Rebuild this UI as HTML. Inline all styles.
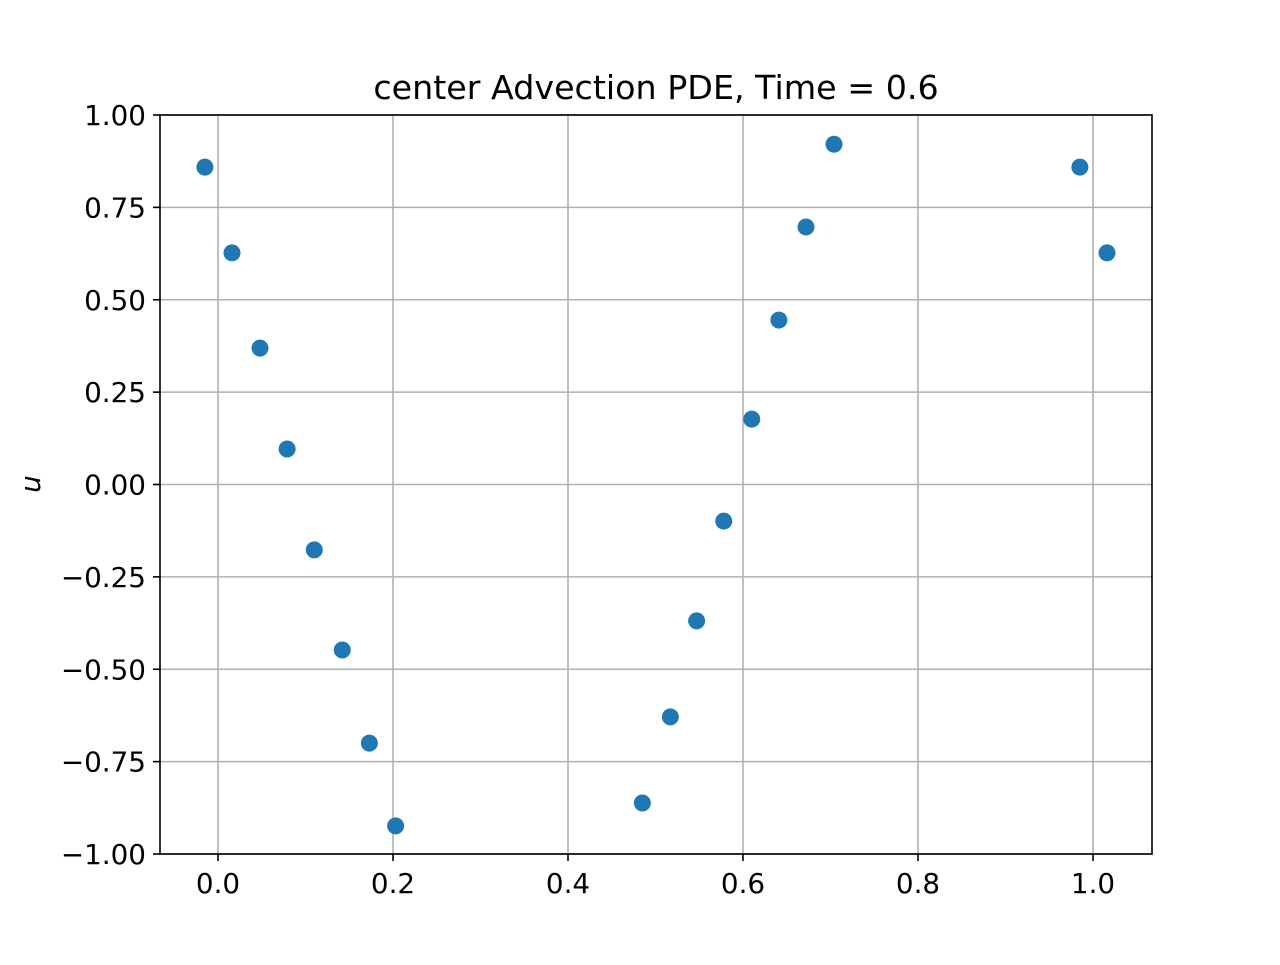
<!DOCTYPE html>
<html><head><meta charset="utf-8"><style>
html,body{margin:0;padding:0;background:#fff;}
svg text{font-family:"DejaVu Sans","Liberation Sans",sans-serif;fill:#000;}
</style></head><body>
<svg id="chart" width="1280" height="960" xmlns="http://www.w3.org/2000/svg">
<rect width="1280" height="960" fill="#fff"/>
<g id="grid"></g>
<g id="points"></g>
<rect x="160" y="115" width="992" height="739" fill="none" stroke="#000" stroke-width="1.6"/>
<g id="ticks"></g>
<text x="656" y="99" font-size="33.3" text-anchor="middle">center Advection PDE, Time = 0.6</text>
<text transform="translate(40,484) rotate(-90)" font-size="27.8" font-style="italic" text-anchor="middle">u</text>
</svg>
<script>
const xVals=[-0.015,0.016,0.048,0.079,0.110,0.142,0.173,0.203,0.485,0.517,0.547,0.578,0.610,0.641,0.672,0.704,0.985,1.016];
const yVals=[0.859,0.627,0.369,0.096,-0.177,-0.448,-0.700,-0.924,-0.862,-0.629,-0.369,-0.099,0.177,0.445,0.697,0.921,0.859,0.627];
const xTicks=[0,0.2,0.4,0.6,0.8,1.0];
const xTickLabels=["0.0","0.2","0.4","0.6","0.8","1.0"];
const yTicks=[1,0.75,0.5,0.25,0,-0.25,-0.5,-0.75,-1];
const yTickLabels=["1.00","0.75","0.50","0.25","0.00","\u22120.25","\u22120.50","\u22120.75","\u22121.00"];
const NS="http://www.w3.org/2000/svg";
const X=v=>218+v*875;
const Y=v=>484.5-v*369.5;
const grid=document.getElementById('grid'),ticks=document.getElementById('ticks'),pts=document.getElementById('points');
function mk(tag,attrs,parent){const e=document.createElementNS(NS,tag);for(const k in attrs)e.setAttribute(k,attrs[k]);parent.appendChild(e);return e;}
xTicks.forEach((t,i)=>{
  const g=mk('line',{x1:X(t),x2:X(t),y1:115,y2:854,stroke:'#b0b0b0','stroke-width':1.6},grid);
  
  
  const tk=mk('line',{x1:X(t),x2:X(t),y1:854,y2:861,stroke:'#000','stroke-width':1.6},ticks);
  
  
  const tx=mk('text',{x:X(t),y:893,'font-size':27.8,'text-anchor':'middle'},ticks);
  tx.textContent=xTickLabels[i];
  
  
});
yTicks.forEach((t,i)=>{
  const g=mk('line',{x1:160,x2:1152,y1:Y(t),y2:Y(t),stroke:'#b0b0b0','stroke-width':1.6},grid);
  
  
  const tk=mk('line',{x1:153,x2:160,y1:Y(t),y2:Y(t),stroke:'#000','stroke-width':1.6},ticks);
  
  
  const tx=mk('text',{x:146,y:Y(t)+10,'font-size':27.8,'text-anchor':'end'},ticks);
  tx.textContent=yTickLabels[i];
  
  
});
xVals.forEach((v,i)=>{
  const c=mk('circle',{cx:X(v),cy:Y(yVals[i]),r:8.5,fill:'#1f77b4'},pts);
  
  
});
</script>
</body></html>
